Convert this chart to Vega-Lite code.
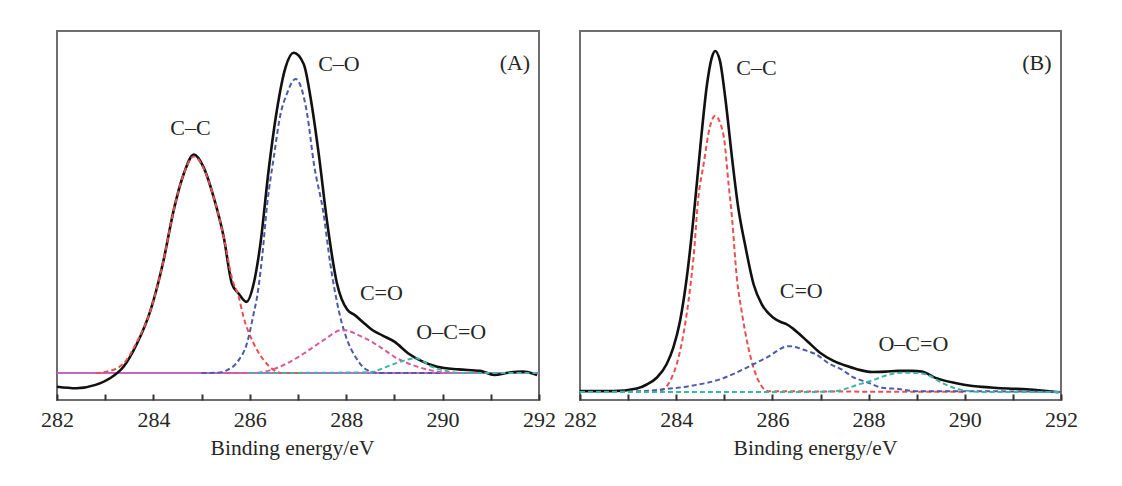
{
  "$schema": "https://vega.github.io/schema/vega-lite/v6.json",
  "background": "white",
  "padding": {"left": 39, "top": 30, "right": 0, "bottom": 0},
  "spacing": 41,
  "bounds": "flush",
  "config": {
    "view": {"stroke": "#6e6e6e", "strokeWidth": 2},
    "font": "Liberation Serif",
    "axisX": {
      "values": [282, 283, 284, 285, 286, 287, 288, 289, 290, 291, 292],
      "labelExpr": "datum.value % 2 == 0 ? datum.label : ''",
      "labelFlush": false,
      "labelOverlap": false,
      "domain": false,
      "grid": false,
      "ticks": true,
      "offset": -6,
      "tickSize": 6,
      "tickColor": "#333",
      "tickWidth": 2,
      "labelPadding": 9,
      "labelFont": "Liberation Serif",
      "labelFontSize": 22,
      "labelColor": "#262626",
      "titleFont": "Liberation Serif",
      "titleFontSize": 21.5,
      "titleFontWeight": "normal",
      "titleColor": "#262626",
      "titlePadding": 7,
      "titleX": 235,
      "titleAlign": "center",
      "zindex": 1
    }
  },
  "resolve": {"scale": {"color": "independent"}},
  "datasets": {
    "specA": [
      {"series": "Baseline", "E": 282.0, "v": 7.3},
      {"series": "Baseline", "E": 292.0, "v": 7.3},
      {"series": "Total", "E": 282.0, "v": 3.6},
      {"series": "Total", "E": 282.4, "v": 3.2},
      {"series": "Total", "E": 282.8, "v": 4.1},
      {"series": "Total", "E": 283.1, "v": 5.9},
      {"series": "Total", "E": 283.38, "v": 9.0},
      {"series": "Total", "E": 283.66, "v": 15.3},
      {"series": "Total", "E": 283.94, "v": 24.3},
      {"series": "Total", "E": 284.21, "v": 37.8},
      {"series": "Total", "E": 284.42, "v": 51.4},
      {"series": "Total", "E": 284.63, "v": 61.3},
      {"series": "Total", "E": 284.84, "v": 66.5},
      {"series": "Total", "E": 285.04, "v": 63.1},
      {"series": "Total", "E": 285.25, "v": 55.0},
      {"series": "Total", "E": 285.46, "v": 44.1},
      {"series": "Total", "E": 285.63, "v": 31.5},
      {"series": "Total", "E": 285.77, "v": 28.8},
      {"series": "Total", "E": 285.93, "v": 26.6},
      {"series": "Total", "E": 286.08, "v": 31.5},
      {"series": "Total", "E": 286.22, "v": 42.3},
      {"series": "Total", "E": 286.39, "v": 62.2},
      {"series": "Total", "E": 286.56, "v": 78.4},
      {"series": "Total", "E": 286.74, "v": 90.1},
      {"series": "Total", "E": 286.91, "v": 94.1},
      {"series": "Total", "E": 287.12, "v": 91.0},
      {"series": "Total", "E": 287.26, "v": 82.0},
      {"series": "Total", "E": 287.43, "v": 66.7},
      {"series": "Total", "E": 287.6, "v": 48.6},
      {"series": "Total", "E": 287.81, "v": 31.5},
      {"series": "Total", "E": 288.02, "v": 24.5},
      {"series": "Total", "E": 288.18, "v": 23.0},
      {"series": "Total", "E": 288.4, "v": 20.5},
      {"series": "Total", "E": 288.55, "v": 18.9},
      {"series": "Total", "E": 288.75, "v": 17.5},
      {"series": "Total", "E": 289.0, "v": 15.8},
      {"series": "Total", "E": 289.29, "v": 12.6},
      {"series": "Total", "E": 289.59, "v": 10.4},
      {"series": "Total", "E": 289.89, "v": 9.0},
      {"series": "Total", "E": 290.33, "v": 8.3},
      {"series": "Total", "E": 290.78, "v": 7.9},
      {"series": "Total", "E": 291.07, "v": 6.8},
      {"series": "Total", "E": 291.37, "v": 7.4},
      {"series": "Total", "E": 291.66, "v": 7.7},
      {"series": "Total", "E": 291.96, "v": 6.8},
      {"series": "C–C", "E": 282.8, "v": 7.3},
      {"series": "C–C", "E": 283.04, "v": 7.7},
      {"series": "C–C", "E": 283.38, "v": 9.9},
      {"series": "C–C", "E": 283.66, "v": 15.8},
      {"series": "C–C", "E": 283.94, "v": 24.3},
      {"series": "C–C", "E": 284.21, "v": 37.8},
      {"series": "C–C", "E": 284.42, "v": 51.4},
      {"series": "C–C", "E": 284.63, "v": 61.3},
      {"series": "C–C", "E": 284.84, "v": 66.0},
      {"series": "C–C", "E": 285.04, "v": 62.8},
      {"series": "C–C", "E": 285.25, "v": 55.0},
      {"series": "C–C", "E": 285.46, "v": 44.1},
      {"series": "C–C", "E": 285.63, "v": 33.0},
      {"series": "C–C", "E": 285.77, "v": 27.9},
      {"series": "C–C", "E": 285.87, "v": 22.5},
      {"series": "C–C", "E": 286.08, "v": 15.3},
      {"series": "C–C", "E": 286.29, "v": 10.8},
      {"series": "C–C", "E": 286.5, "v": 8.1},
      {"series": "C–C", "E": 286.7, "v": 7.3},
      {"series": "C–C", "E": 287.0, "v": 7.3},
      {"series": "C–O", "E": 285.0, "v": 7.3},
      {"series": "C–O", "E": 285.32, "v": 7.4},
      {"series": "C–O", "E": 285.53, "v": 8.1},
      {"series": "C–O", "E": 285.77, "v": 10.8},
      {"series": "C–O", "E": 285.94, "v": 15.3},
      {"series": "C–O", "E": 286.08, "v": 23.4},
      {"series": "C–O", "E": 286.15, "v": 27.9},
      {"series": "C–O", "E": 286.25, "v": 38.0},
      {"series": "C–O", "E": 286.36, "v": 53.0},
      {"series": "C–O", "E": 286.5, "v": 66.0},
      {"series": "C–O", "E": 286.63, "v": 77.0},
      {"series": "C–O", "E": 286.77, "v": 83.0},
      {"series": "C–O", "E": 286.95, "v": 87.0},
      {"series": "C–O", "E": 287.19, "v": 77.5},
      {"series": "C–O", "E": 287.33, "v": 64.0},
      {"series": "C–O", "E": 287.53, "v": 50.5},
      {"series": "C–O", "E": 287.67, "v": 36.9},
      {"series": "C–O", "E": 287.85, "v": 24.0},
      {"series": "C–O", "E": 288.0, "v": 17.0},
      {"series": "C–O", "E": 288.2, "v": 11.5},
      {"series": "C–O", "E": 288.45, "v": 8.0},
      {"series": "C–O", "E": 288.7, "v": 7.3},
      {"series": "C–O", "E": 290.0, "v": 7.3},
      {"series": "C=O", "E": 285.5, "v": 7.3},
      {"series": "C=O", "E": 286.0, "v": 7.3},
      {"series": "C=O", "E": 286.43, "v": 8.1},
      {"series": "C=O", "E": 286.77, "v": 9.9},
      {"series": "C=O", "E": 287.12, "v": 12.6},
      {"series": "C=O", "E": 287.53, "v": 16.2},
      {"series": "C=O", "E": 287.92, "v": 19.0},
      {"series": "C=O", "E": 288.33, "v": 17.1},
      {"series": "C=O", "E": 288.7, "v": 14.4},
      {"series": "C=O", "E": 289.0, "v": 11.7},
      {"series": "C=O", "E": 289.37, "v": 9.5},
      {"series": "C=O", "E": 289.74, "v": 8.1},
      {"series": "C=O", "E": 290.1, "v": 7.4},
      {"series": "C=O", "E": 290.5, "v": 7.3},
      {"series": "O–C=O", "E": 286.0, "v": 7.3},
      {"series": "O–C=O", "E": 288.5, "v": 7.5},
      {"series": "O–C=O", "E": 288.66, "v": 8.1},
      {"series": "O–C=O", "E": 289.0, "v": 9.8},
      {"series": "O–C=O", "E": 289.45, "v": 11.3},
      {"series": "O–C=O", "E": 289.78, "v": 9.0},
      {"series": "O–C=O", "E": 290.1, "v": 7.8},
      {"series": "O–C=O", "E": 290.4, "v": 7.3},
      {"series": "O–C=O", "E": 292.0, "v": 7.3}
    ],
    "labelsA": [
      {"text": "C–C", "E": 284.77, "v": 73.8},
      {"text": "C–O", "E": 287.85, "v": 91.1},
      {"text": "C=O", "E": 288.73, "v": 28.9},
      {"text": "O–C=O", "E": 290.18, "v": 18.4},
      {"text": "(A)", "E": 291.5, "v": 91.4}
    ],
    "specB": [
      {"series": "Total", "E": 282.0, "v": 2.4},
      {"series": "Total", "E": 282.69, "v": 2.4},
      {"series": "Total", "E": 283.18, "v": 3.1},
      {"series": "Total", "E": 283.39, "v": 4.2},
      {"series": "Total", "E": 283.6, "v": 6.1},
      {"series": "Total", "E": 283.8, "v": 9.7},
      {"series": "Total", "E": 283.94, "v": 14.2},
      {"series": "Total", "E": 284.08, "v": 21.4},
      {"series": "Total", "E": 284.22, "v": 33.2},
      {"series": "Total", "E": 284.36, "v": 49.4},
      {"series": "Total", "E": 284.5, "v": 68.4},
      {"series": "Total", "E": 284.64, "v": 85.5},
      {"series": "Total", "E": 284.74, "v": 92.8},
      {"series": "Total", "E": 284.81, "v": 94.6},
      {"series": "Total", "E": 284.91, "v": 91.9},
      {"series": "Total", "E": 285.02, "v": 81.9},
      {"series": "Total", "E": 285.16, "v": 65.7},
      {"series": "Total", "E": 285.29, "v": 52.1},
      {"series": "Total", "E": 285.43, "v": 42.2},
      {"series": "Total", "E": 285.61, "v": 31.3},
      {"series": "Total", "E": 285.78, "v": 25.9},
      {"series": "Total", "E": 286.02, "v": 22.3},
      {"series": "Total", "E": 286.2, "v": 21.0},
      {"series": "Total", "E": 286.3, "v": 20.5},
      {"series": "Total", "E": 286.44, "v": 19.2},
      {"series": "Total", "E": 286.72, "v": 16.0},
      {"series": "Total", "E": 286.99, "v": 12.8},
      {"series": "Total", "E": 287.27, "v": 10.6},
      {"series": "Total", "E": 287.55, "v": 9.2},
      {"series": "Total", "E": 287.83, "v": 8.1},
      {"series": "Total", "E": 288.07, "v": 7.6},
      {"series": "Total", "E": 288.35, "v": 7.7},
      {"series": "Total", "E": 288.62, "v": 7.9},
      {"series": "Total", "E": 288.9, "v": 7.9},
      {"series": "Total", "E": 289.11, "v": 7.7},
      {"series": "Total", "E": 289.39, "v": 6.0},
      {"series": "Total", "E": 289.8, "v": 4.6},
      {"series": "Total", "E": 290.16, "v": 3.8},
      {"series": "Total", "E": 290.54, "v": 3.4},
      {"series": "Total", "E": 290.9, "v": 3.1},
      {"series": "Total", "E": 291.28, "v": 2.9},
      {"series": "Total", "E": 291.65, "v": 2.5},
      {"series": "Total", "E": 291.95, "v": 2.1},
      {"series": "C–C", "E": 283.5, "v": 2.2},
      {"series": "C–C", "E": 283.73, "v": 2.9},
      {"series": "C–C", "E": 283.87, "v": 5.1},
      {"series": "C–C", "E": 284.01, "v": 9.7},
      {"series": "C–C", "E": 284.15, "v": 17.8},
      {"series": "C–C", "E": 284.29, "v": 30.4},
      {"series": "C–C", "E": 284.36, "v": 38.6},
      {"series": "C–C", "E": 284.46, "v": 54.8},
      {"series": "C–C", "E": 284.57, "v": 63.9},
      {"series": "C–C", "E": 284.7, "v": 74.0},
      {"series": "C–C", "E": 284.81, "v": 77.0},
      {"series": "C–C", "E": 284.98, "v": 72.0},
      {"series": "C–C", "E": 285.09, "v": 58.4},
      {"series": "C–C", "E": 285.16, "v": 49.4},
      {"series": "C–C", "E": 285.26, "v": 33.2},
      {"series": "C–C", "E": 285.36, "v": 24.1},
      {"series": "C–C", "E": 285.5, "v": 14.2},
      {"series": "C–C", "E": 285.68, "v": 6.1},
      {"series": "C–C", "E": 285.92, "v": 2.4},
      {"series": "C–C", "E": 290.0, "v": 2.2},
      {"series": "C=O", "E": 282.0, "v": 2.2},
      {"series": "C=O", "E": 283.25, "v": 2.4},
      {"series": "C=O", "E": 283.73, "v": 2.9},
      {"series": "C=O", "E": 284.29, "v": 3.8},
      {"series": "C=O", "E": 284.91, "v": 5.6},
      {"series": "C=O", "E": 285.47, "v": 8.8},
      {"series": "C=O", "E": 285.88, "v": 11.5},
      {"series": "C=O", "E": 286.34, "v": 14.6},
      {"series": "C=O", "E": 286.72, "v": 13.3},
      {"series": "C=O", "E": 286.89, "v": 12.5},
      {"series": "C=O", "E": 287.2, "v": 9.7},
      {"series": "C=O", "E": 287.44, "v": 8.3},
      {"series": "C=O", "E": 287.69, "v": 6.1},
      {"series": "C=O", "E": 287.79, "v": 5.6},
      {"series": "C=O", "E": 288.03, "v": 4.5},
      {"series": "C=O", "E": 288.28, "v": 3.3},
      {"series": "C=O", "E": 288.62, "v": 3.0},
      {"series": "C=O", "E": 288.97, "v": 2.4},
      {"series": "C=O", "E": 289.66, "v": 2.4},
      {"series": "C=O", "E": 292.0, "v": 2.2},
      {"series": "O–C=O", "E": 282.0, "v": 2.2},
      {"series": "O–C=O", "E": 286.89, "v": 2.2},
      {"series": "O–C=O", "E": 287.3, "v": 2.4},
      {"series": "O–C=O", "E": 287.79, "v": 4.2},
      {"series": "O–C=O", "E": 288.14, "v": 5.6},
      {"series": "O–C=O", "E": 288.4, "v": 6.8},
      {"series": "O–C=O", "E": 288.69, "v": 7.4},
      {"series": "O–C=O", "E": 289.0, "v": 7.3},
      {"series": "O–C=O", "E": 289.18, "v": 7.0},
      {"series": "O–C=O", "E": 289.52, "v": 4.7},
      {"series": "O–C=O", "E": 289.87, "v": 2.9},
      {"series": "O–C=O", "E": 290.36, "v": 2.2},
      {"series": "O–C=O", "E": 292.0, "v": 2.2}
    ],
    "labelsB": [
      {"text": "C–C", "E": 285.67, "v": 90.0},
      {"text": "C=O", "E": 286.6, "v": 29.5},
      {"text": "O–C=O", "E": 288.93, "v": 15.1},
      {"text": "(B)", "E": 291.5, "v": 91.4}
    ]
  },
  "hconcat": [
    {
      "width": 482,
      "height": 369,
      "encoding": {
        "x": {"field": "E", "type": "quantitative", "scale": {"domain": [282, 292], "nice": false, "zero": false},
          "axis": {"title": "Binding energy/eV", "labelFont": "Liberation Serif", "titleFont": "Liberation Serif"}},
        "y": {"field": "v", "type": "quantitative", "scale": {"domain": [0, 100], "nice": false}, "axis": null}
      },
      "layer": [
        {
          "data": {"name": "specA"},
          "transform": [{"filter": "datum.series == 'Baseline'"}],
          "mark": {"type": "line", "color": "#c466c4", "strokeWidth": 2}
        },
        {
          "data": {"name": "specA"},
          "transform": [{"filter": "datum.series == 'Total'"}],
          "mark": {"type": "line", "color": "#111111", "strokeWidth": 2.6, "interpolate": "monotone"}
        },
        {
          "data": {"name": "specA"},
          "transform": [{"filter": "datum.series != 'Total' && datum.series != 'Baseline'"}],
          "mark": {"type": "line", "strokeWidth": 2, "strokeDash": [5, 3], "interpolate": "monotone"},
          "encoding": {
            "color": {"field": "series", "type": "nominal", "legend": null,
              "scale": {"domain": ["C–C", "C–O", "C=O", "O–C=O"], "range": ["#e8504f", "#4c5aa8", "#d85a98", "#3fb5a5"]}},
            "detail": {"field": "series"}
          }
        },
        {
          "data": {"name": "labelsA"},
          "mark": {"type": "text", "font": "Liberation Serif", "fontSize": 22, "color": "#262626", "align": "center", "baseline": "middle"},
          "encoding": {"text": {"field": "text"}}
        }
      ]
    },
    {
      "width": 481,
      "height": 369,
      "encoding": {
        "x": {"field": "E", "type": "quantitative", "scale": {"domain": [282, 292], "nice": false, "zero": false},
          "axis": {"title": "Binding energy/eV", "labelFont": "Liberation Serif", "titleFont": "Liberation Serif"}},
        "y": {"field": "v", "type": "quantitative", "scale": {"domain": [0, 100], "nice": false}, "axis": null}
      },
      "layer": [
        {
          "data": {"name": "specB"},
          "transform": [{"filter": "datum.series == 'Total'"}],
          "mark": {"type": "line", "color": "#111111", "strokeWidth": 2.6, "interpolate": "monotone"}
        },
        {
          "data": {"name": "specB"},
          "transform": [{"filter": "datum.series != 'Total'"}],
          "mark": {"type": "line", "strokeWidth": 2, "strokeDash": [5, 3], "interpolate": "monotone"},
          "encoding": {
            "color": {"field": "series", "type": "nominal", "legend": null,
              "scale": {"domain": ["C–C", "C=O", "O–C=O"], "range": ["#e8504f", "#4c5aa8", "#3fb5a5"]}},
            "detail": {"field": "series"}
          }
        },
        {
          "data": {"name": "labelsB"},
          "mark": {"type": "text", "font": "Liberation Serif", "fontSize": 22, "color": "#262626", "align": "center", "baseline": "middle"},
          "encoding": {"text": {"field": "text"}}
        }
      ]
    }
  ]
}
